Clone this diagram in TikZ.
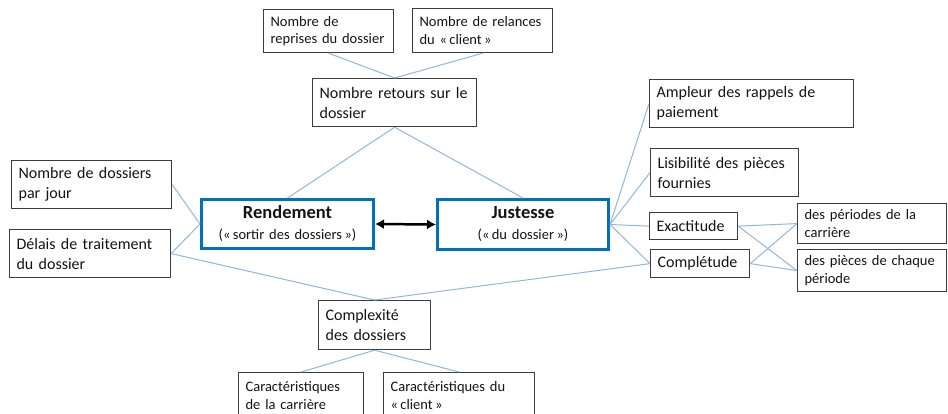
\documentclass[tikz,border=0pt]{standalone}
\usepackage{fontspec}
\setmainfont{Carlito}
\usetikzlibrary{arrows.meta}
\definecolor{lineblue}{RGB}{145,182,222}
\definecolor{boxblue}{RGB}{0,112,192}
\definecolor{boxgray}{RGB}{60,60,60}
\definecolor{txt}{RGB}{20,20,20}
\tikzset{
  box/.style={draw=boxgray, line width=1.2pt, anchor=north west, inner xsep=7pt, inner ysep=0pt,
    align=left, text=txt, font=\fontsize{16}{20}\selectfont},
  sbox/.style={box, font=\fontsize{14.5}{17.5}\selectfont},
  mainbox/.style={draw=boxblue, line width=3pt, anchor=north west, inner sep=0pt,
    align=center, text=txt, font=\fontsize{14.5}{21}\selectfont},
  link/.style={draw=lineblue, line width=1pt},
  dbl/.style={line width=2.5pt, black, {Latex[length=9pt,width=10pt]}-{Latex[length=9pt,width=10pt]}}
}
\begin{document}
\begin{tikzpicture}[x=1pt,y=-1pt]
\useasboundingbox (0,0) rectangle (948,413);
% top
\node[sbox, text width=116pt, minimum height=43pt] (A) at (263,9) {Nombre de\\reprises du dossier};
\node[sbox, text width=126pt, minimum height=44pt] (B) at (412,8) {Nombre de relances\\du «\,client\,»};
\node[box, text width=150pt, minimum height=48pt] (C) at (312,78) {Nombre retours sur le\\dossier};
% left
\node[box, text width=146pt, minimum height=48pt] (D) at (11,160) {Nombre de dossiers\\par jour};
\node[box, text width=147pt, minimum height=48pt] (E) at (9,229) {Délais de traitement\\du dossier};
% main
\node[mainbox, text width=172pt, minimum height=49pt] (R) at (200,198)
  {{\fontsize{18.5}{21}\selectfont\bfseries Rendement}\\(«\,sortir des dossiers\,»)};
\node[mainbox, text width=171pt, minimum height=50pt] (J) at (436,198)
  {{\fontsize{18.5}{21}\selectfont\bfseries Justesse}\\(«\,du dossier\,»)};
% bottom
\node[box, text width=98pt, minimum height=49pt] (F) at (318,300) {Complexité\\des dossiers};
\node[sbox, text width=111pt, minimum height=46pt] (G) at (238,372) {Caractéristiques\\de la carrière};
\node[sbox, text width=137pt, minimum height=46pt] (H) at (383,372) {Caractéristiques du\\«\,client\,»};
% right
\node[box, text width=190pt, minimum height=48pt] (Amp) at (649,79) {Ampleur des rappels de\\paiement};
\node[box, text width=134pt, minimum height=48pt] (Lis) at (650,148) {Lisibilité des pièces\\fournies};
\node[box, text width=74pt, minimum height=27pt] (Exa) at (649,212) {Exactitude};
\node[box, text width=85pt, minimum height=28pt] (Com) at (650,249) {Complétude};
\node[sbox, text width=135pt, minimum height=40pt] (Per) at (797,203) {des périodes de la\\carrière};
\node[sbox, text width=135pt, minimum height=42pt] (Pie) at (797,249) {des pièces de chaque\\période};
% connectors
\draw[link] (A.south) -- (C.north);
\draw[link] (B.south) -- (C.north);
\draw[link] (C.south) -- (R.north);
\draw[link] (C.south) -- (J.north);
\draw[link] (D.east) -- (R.west);
\draw[link] (E.east) -- (R.west);
\draw[link] (E.east) -- (F.north);
\draw[link] (Com.west) -- (F.north);
\draw[link] (F.south) -- (G.north);
\draw[link] (F.south) -- (H.north);
\draw[link] (J.east) -- (Amp.west);
\draw[link] (J.east) -- (Lis.west);
\draw[link] (J.east) -- (Exa.west);
\draw[link] (J.east) -- (Com.west);
\draw[link] (Exa.east) -- (Per.west);
\draw[link] (Exa.east) -- (Pie.west);
\draw[link] (Com.east) -- (Per.west);
\draw[link] (Com.east) -- (Pie.west);
\draw[dbl] (R.east) -- (J.west);
\end{tikzpicture}
\end{document}
